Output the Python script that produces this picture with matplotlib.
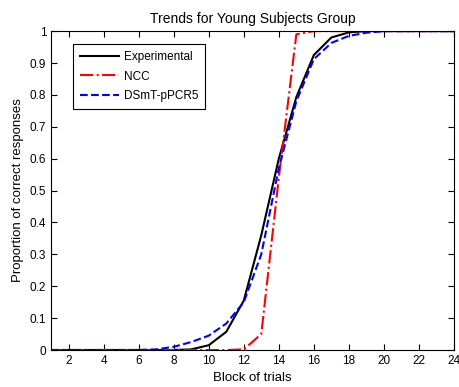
import numpy as np
import matplotlib
matplotlib.use('Agg')
import matplotlib.pyplot as plt

plt.rcParams['font.family'] = ['Liberation Sans', 'DejaVu Sans']

# block of trials
blocks = list(range(1, 25))

experimental = [0, 0, 0, 0, 0, 0, 0, 0, 0.002, 0.015, 0.057, 0.155, 0.36, 0.60,
                0.793, 0.925, 0.98, 0.996, 1.0, 1.0, 1.0, 1.0, 1.0, 1.0]
ncc = [0, 0, 0, 0, 0, 0, 0, 0, 0, 0, 0, 0.002, 0.05, 0.54,
       0.99, 1.0, 1.0, 1.0, 1.0, 1.0, 1.0, 1.0, 1.0, 1.0]
dsmt = [0, 0, 0, 0, 0, 0, 0.002, 0.01, 0.025, 0.045, 0.083, 0.15, 0.30, 0.57,
        0.78, 0.912, 0.963, 0.985, 0.995, 1.0, 1.0, 1.0, 1.0, 1.0]

fig = plt.figure(figsize=(4.6, 3.87), dpi=100)
ax = fig.add_axes([0.111, 0.0956, 0.876, 0.824])

ax.plot(blocks, experimental, color='black', lw=1.5, label='Experimental')
ax.plot(blocks, ncc, color='red', lw=1.5, ls='-.', label='NCC')
ax.plot(blocks, dsmt, color='blue', lw=1.5, ls='--', label='DSmT-pPCR5')

ax.set_xlim(1, 24)
ax.set_ylim(0, 1)
ax.set_xticks(range(2, 25, 2))
yt = np.round(np.arange(0, 1.01, 0.1), 1)
ax.set_yticks(yt)
ax.set_yticklabels(['0'] + ['%.1f' % v for v in yt[1:-1]] + ['1'])
ax.tick_params(direction='in', top=True, right=True, labelsize=8.5, length=4)

ax.set_title('Trends for Young Subjects Group', fontsize=10)
ax.set_xlabel('Block of trials', fontsize=9.5)
ax.set_ylabel('Proportion of correct responses', fontsize=9.5)

leg = ax.legend(loc='upper left', bbox_to_anchor=(0.054, 0.96), fontsize=8.5,
                fancybox=False, edgecolor='black', framealpha=1,
                borderaxespad=0, handlelength=3.3, handletextpad=0.4,
                borderpad=0.6, labelspacing=0.65)
leg.get_frame().set_linewidth(0.8)

fig.savefig('out.png', dpi=100)
